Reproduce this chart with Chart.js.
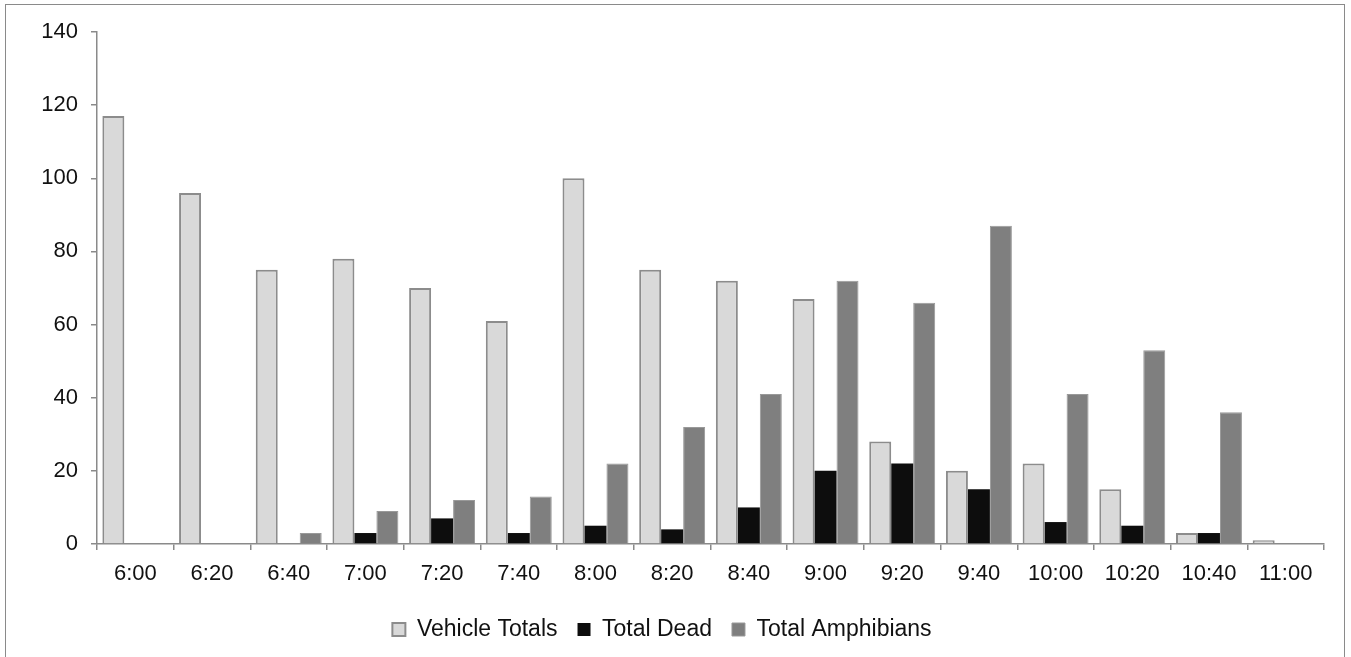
<!DOCTYPE html>
<html>
<head>
<meta charset="utf-8">
<script src="https://cdn.jsdelivr.net/npm/chart.js@4.4.1/dist/chart.umd.min.js"></script>
<style>
  html, body { margin: 0; padding: 0; background: #fff; }
  #wrap { position: relative; width: 1351px; height: 657px; }
  #frame { position: absolute; left: 5px; top: 4px; width: 1340px; height: 670px; border: 1px solid #8a8a8a; box-sizing: border-box; }
  canvas { position: absolute; left: 0; top: 0; }
</style>
</head>
<body>
<div id="wrap">
  <div id="frame"></div>
  <canvas id="chart" width="1351" height="657"></canvas>
</div>
<script>
// time slots along the x axis
var times = ["6:00", "6:20", "6:40", "7:00", "7:20", "7:40", "8:00", "8:20",
             "8:40", "9:00", "9:20", "9:40", "10:00", "10:20", "10:40", "11:00"];

// counts
var vehicleTotals   = [117, 96, 75, 78, 70, 61, 100, 75, 72, 67, 28, 20, 22, 15, 3, 1];
var totalDead       = [0, 0, 0, 3, 7, 3, 5, 4, 10, 20, 22, 15, 6, 5, 3, 0];
var totalAmphibians = [0, 0, 3, 9, 12, 13, 22, 32, 41, 72, 66, 87, 41, 53, 36, 0];

var yTicks = [0, 20, 40, 60, 80, 100, 120, 140];

Chart.defaults.font.family = "'Liberation Sans', Arial, sans-serif";
Chart.defaults.color = "#111";

var ctx = document.getElementById("chart").getContext("2d");

var chart = new Chart(ctx, {
    type: "bar",
    data: {
        labels: times,
        datasets: [{
            label: "Vehicle Totals",
            data: vehicleTotals,
            backgroundColor: "#d9d9d9",
            borderColor: "#8c8c8c",
            borderWidth: 2
        }, {
            label: "Total Dead",
            data: totalDead,
            backgroundColor: "#0d0d0d",
            borderColor: "#0d0d0d",
            borderWidth: 0
        }, {
            label: "Total Amphibians",
            data: totalAmphibians,
            backgroundColor: "#7f7f7f",
            borderColor: "#999999",
            borderWidth: 1
        }]
    },
    options: {
        responsive: false,
        animation: false,
        layout: {
            padding: { left: 0, top: 32, right: 27, bottom: 6 }
        },
        datasets: {
            bar: {
                categoryPercentage: 0.86,
                barPercentage: 1.0
            }
        },
        plugins: {
            legend: {
                position: "bottom",
                labels: {
                    boxWidth: 13,
                    boxHeight: 13,
                    padding: 20,
                    font: { size: 23 }
                }
            },
            tooltip: { enabled: false }
        },
        scales: {
            x: {
                grid: {
                    offset: true,
                    drawOnChartArea: false,
                    drawTicks: true,
                    tickLength: 6,
                    color: "#8a8a8a",
                    lineWidth: 1.5
                },
                border: { color: "#8a8a8a", width: 1.5 },
                ticks: {
                    font: { size: 22 },
                    padding: 11,
                    maxRotation: 0
                },
                afterFit: function(scale) { scale.height = 54; }
            },
            y: {
                min: 0,
                max: 140,
                afterBuildTicks: function(scale) {
                    scale.ticks = yTicks.map(function(v) { return { value: v }; });
                },
                grid: {
                    drawOnChartArea: false,
                    drawTicks: true,
                    tickLength: 6,
                    color: "#8a8a8a",
                    lineWidth: 1.5
                },
                border: { color: "#8a8a8a", width: 1.5 },
                ticks: {
                    font: { size: 22 },
                    padding: 13
                },
                afterFit: function(scale) { scale.width = 97; }
            }
        }
    }
});
</script>
</body>
</html>
